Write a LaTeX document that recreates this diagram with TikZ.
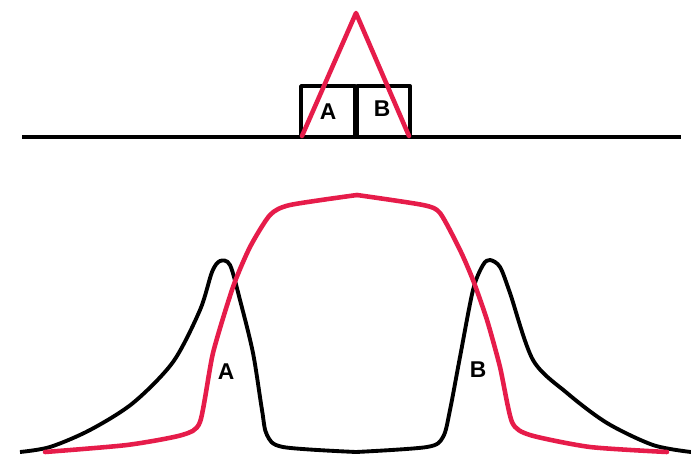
\documentclass[tikz,border=0pt]{standalone}
\usepackage{fontspec}
\setsansfont{Liberation Sans}
\usetikzlibrary{positioning}
\definecolor{crimson}{RGB}{230,28,74}

\begin{document}
\begin{tikzpicture}[
  x=0.02cm, y=-0.02cm,
  blackline/.style={line width=2.2pt, black, line join=round},
  redline/.style={line width=2.6pt, crimson, line join=round, line cap=round},
  lbl/.style={font=\sffamily\bfseries\fontsize{13}{13}\selectfont, inner sep=0pt},
]
\useasboundingbox (0,0) rectangle (691,454);

  % Top: two blocks on the floor
  \draw[blackline] (22,137) -- (681,137);
  \draw[blackline] (301,137) -- (301,86) -- (355,86) -- (355,137);
  \draw[blackline] (357,137) -- (357,86) -- (410,86) -- (410,137);
  \node[lbl] (topA) at (328,112) {A};
  \node[lbl] (topB) at (382,109) {B};
  \draw[redline] (302,136) -- (356,13) -- (409,136);

  % Bottom: black profile
  \draw[blackline] plot[smooth, tension=0.5] coordinates {
    (20,452) (50,447) (90,430) (133,403) (173,362) (200,310) (212,272)
    (220,261) (230,265) (240,300) (253,353) (262,410) (267,435) (283,447) (356,452)};
  \draw[blackline] plot[smooth, tension=0.5] coordinates {
    (356,452) (427,447) (443,437) (450,410) (460,357) (473,290) (483,265)
    (490,260) (500,267) (510,293) (533,360) (567,393) (607,423) (653,445) (691,452)};

  % Bottom: red profile
  \draw[redline] plot[smooth, tension=0.4] coordinates {
    (45,452) (127,445) (182,435) (200,422) (213,353) (233,287) (250,247)
    (270,215) (290,205) (357,195)};
  \draw[redline] plot[smooth, tension=0.4] coordinates {
    (357,195) (423,205) (440,213) (460,250) (473,280) (487,320) (500,367)
    (512,422) (530,435) (590,447) (667,452)};
  \node[lbl] (botA) at (226,372) {A};
  \node[lbl] (botB) at (478,370) {B};
\end{tikzpicture}
\end{document}
